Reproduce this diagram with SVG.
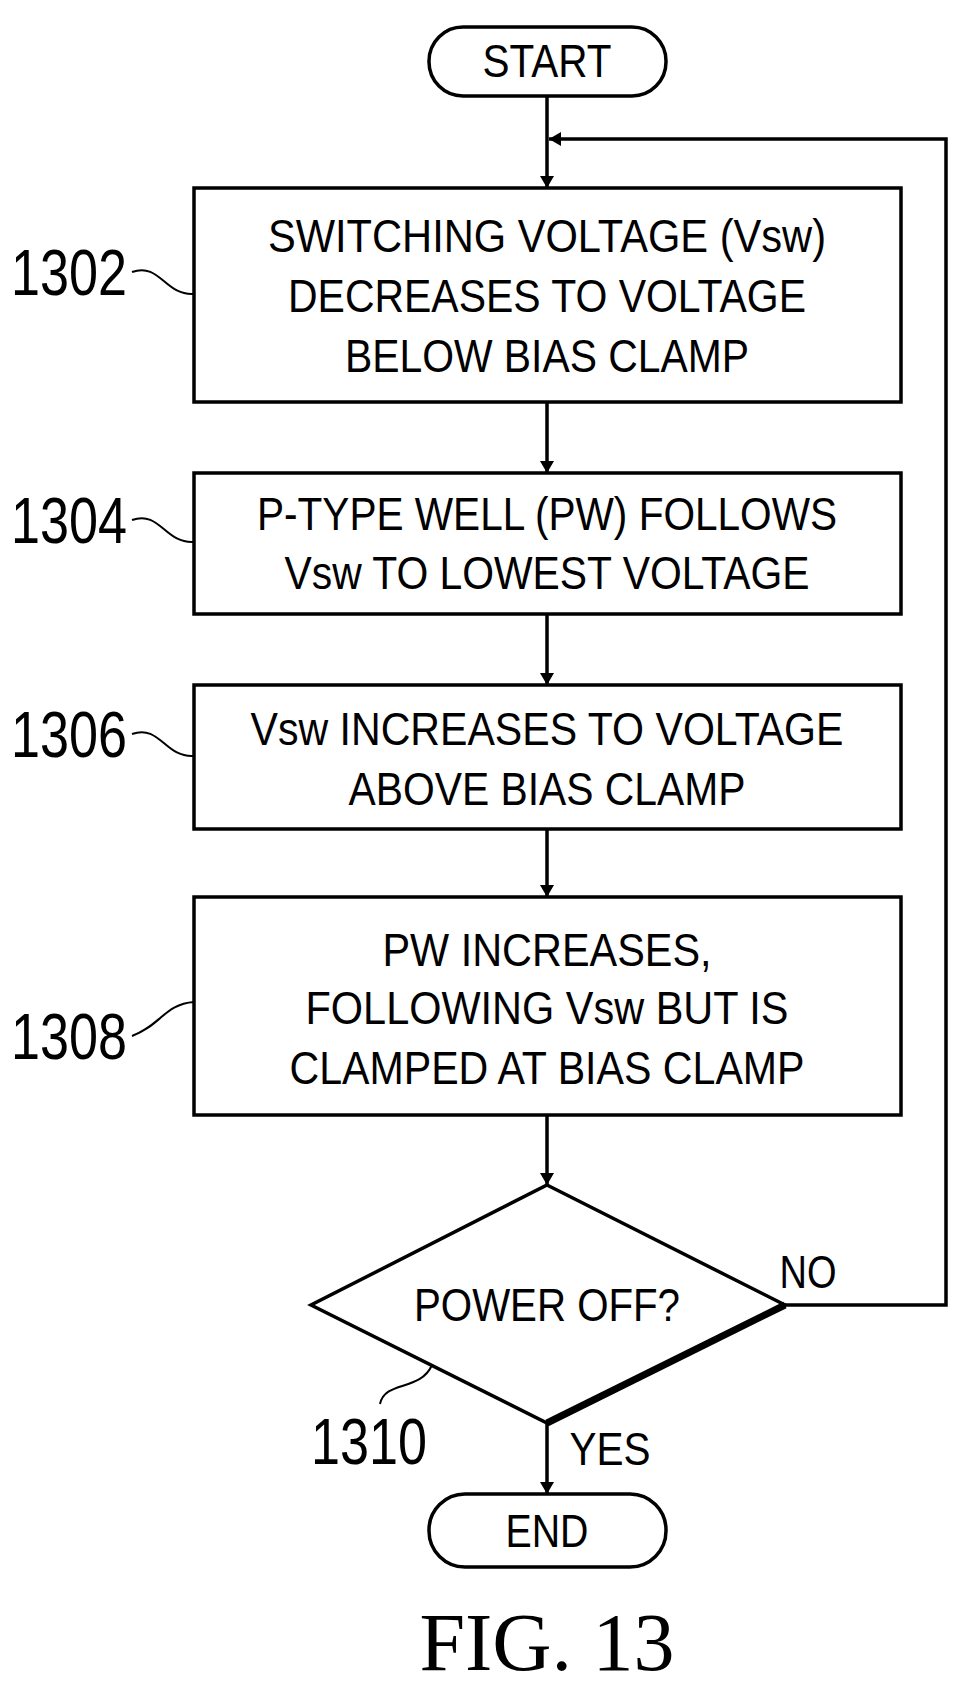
<svg xmlns="http://www.w3.org/2000/svg" width="971" height="1697" viewBox="0 0 971 1697">
<style>
.s{fill:none;stroke:#000;stroke-width:3.5}
.t{font-family:"Liberation Sans",Arial,sans-serif;font-size:47px;text-anchor:middle}
.n{font-family:"Liberation Sans",Arial,sans-serif;font-size:64px}
.l{fill:none;stroke:#000;stroke-width:2}
</style>
<defs><marker id="a" markerWidth="12" markerHeight="14" refX="12" refY="7" orient="auto" markerUnits="userSpaceOnUse"><path d="M0,0L12,7L0,14z"/></marker></defs>
<rect width="971" height="1697" fill="#fff"/>
<g id="start"><rect class="s" x="429" y="27" width="237" height="69" rx="34"/><text class="t" x="547" y="77" textLength="129" lengthAdjust="spacingAndGlyphs">START</text></g>
<g id="n1302"><rect class="s" x="194" y="188" width="707" height="214"/>
<text class="t" x="547" y="252" textLength="558" lengthAdjust="spacingAndGlyphs">SWITCHING VOLTAGE (Vsw)</text>
<text class="t" x="547" y="312" textLength="518" lengthAdjust="spacingAndGlyphs">DECREASES TO VOLTAGE</text>
<text class="t" x="547" y="372" textLength="404" lengthAdjust="spacingAndGlyphs">BELOW BIAS CLAMP</text>
<text class="n" x="11" y="295" textLength="116" lengthAdjust="spacingAndGlyphs">1302</text><path class="l" d="M132,272C160,262 165,296 194,294"/></g>
<g id="n1304"><rect class="s" x="194" y="473" width="707" height="141"/>
<text class="t" x="547" y="530" textLength="580" lengthAdjust="spacingAndGlyphs">P-TYPE WELL (PW) FOLLOWS</text>
<text class="t" x="547" y="589" textLength="525" lengthAdjust="spacingAndGlyphs">Vsw TO LOWEST VOLTAGE</text>
<text class="n" x="11" y="543" textLength="116" lengthAdjust="spacingAndGlyphs">1304</text><path class="l" d="M132,520C160,510 165,544 194,542"/></g>
<g id="n1306"><rect class="s" x="194" y="685" width="707" height="144"/>
<text class="t" x="547" y="745" textLength="593" lengthAdjust="spacingAndGlyphs">Vsw INCREASES TO VOLTAGE</text>
<text class="t" x="547" y="805" textLength="397" lengthAdjust="spacingAndGlyphs">ABOVE BIAS CLAMP</text>
<text class="n" x="11" y="757" textLength="116" lengthAdjust="spacingAndGlyphs">1306</text><path class="l" d="M132,734C160,724 165,758 194,756"/></g>
<g id="n1308"><rect class="s" x="194" y="897" width="707" height="218"/>
<text class="t" x="547" y="966" textLength="329" lengthAdjust="spacingAndGlyphs">PW INCREASES,</text>
<text class="t" x="547" y="1024" textLength="483" lengthAdjust="spacingAndGlyphs">FOLLOWING Vsw BUT IS</text>
<text class="t" x="547" y="1084" textLength="515" lengthAdjust="spacingAndGlyphs">CLAMPED AT BIAS CLAMP</text>
<text class="n" x="11" y="1059" textLength="116" lengthAdjust="spacingAndGlyphs">1308</text><path class="l" d="M132,1036C160,1026 165,1004 194,1002"/></g>
<g id="n1310"><path class="s" d="M547,1185L785,1305L547,1423L311,1305Z"/><path d="M785,1305L547,1423" stroke="#000" stroke-width="7"/>
<text class="t" x="547" y="1321" textLength="266" lengthAdjust="spacingAndGlyphs">POWER OFF?</text>
<text class="n" x="311" y="1464" textLength="116" lengthAdjust="spacingAndGlyphs">1310</text><path class="l" d="M432,1365C420,1392 385,1380 380,1404"/></g>
<g id="end"><rect class="s" x="429" y="1494" width="237" height="73" rx="36"/><text class="t" x="547" y="1547" textLength="83" lengthAdjust="spacingAndGlyphs">END</text></g>
<g id="connectors" stroke="#000" stroke-width="3.5" fill="none">
<path d="M547,96V188" marker-end="url(#a)"/>
<path d="M785,1305H946V139H549" marker-end="url(#a)"/>
<path d="M547,402V473" marker-end="url(#a)"/>
<path d="M547,614V685" marker-end="url(#a)"/>
<path d="M547,829V897" marker-end="url(#a)"/>
<path d="M547,1115V1185" marker-end="url(#a)"/>
<path d="M547,1423V1494" marker-end="url(#a)"/>
</g>
<text class="t" x="808" y="1288" textLength="57" lengthAdjust="spacingAndGlyphs">NO</text>
<text class="t" x="610" y="1465" textLength="81" lengthAdjust="spacingAndGlyphs">YES</text>
<text x="547" y="1670" font-family="'Liberation Serif',serif" font-size="82" text-anchor="middle">FIG. 13</text>
</svg>
